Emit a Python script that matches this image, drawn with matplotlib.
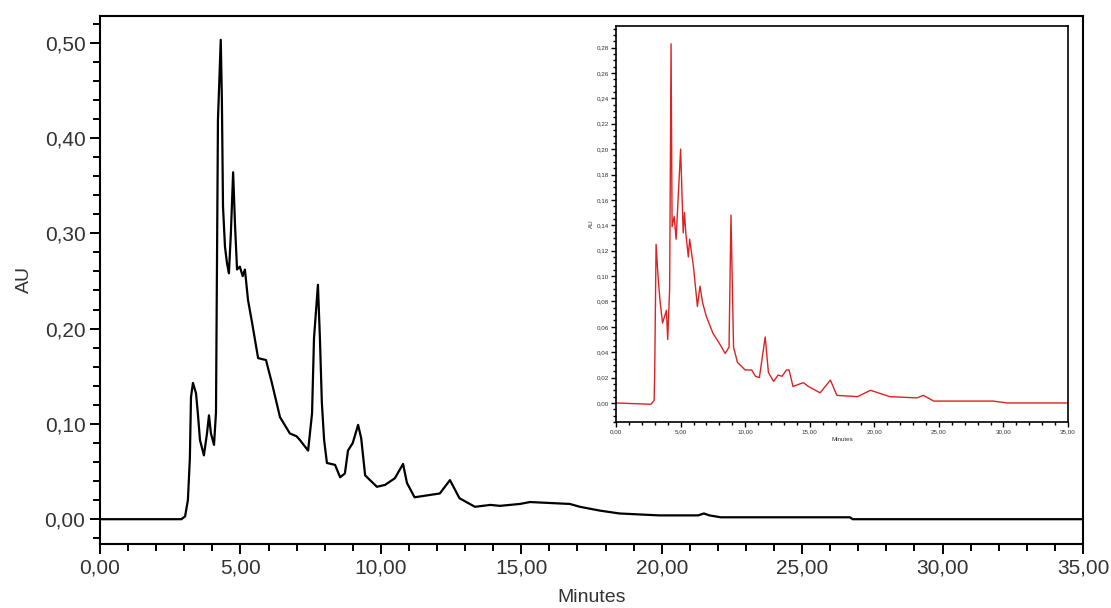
import numpy as np
import matplotlib.pyplot as plt
from matplotlib.ticker import MultipleLocator, FuncFormatter

# main chromatogram (black), minutes vs AU
main_t = [0.0, 2.9, 3.03, 3.13, 3.2, 3.24, 3.31, 3.42, 3.49, 3.56, 3.7, 3.81, 3.88,
          3.95, 4.06, 4.13, 4.2, 4.3, 4.34, 4.38, 4.45, 4.52, 4.59, 4.66, 4.74, 4.81,
          4.88, 4.98, 5.08, 5.16, 5.27, 5.41, 5.63, 5.91, 6.12, 6.41, 6.76, 7.0, 7.12,
          7.41, 7.55, 7.62, 7.76, 7.83, 7.9, 7.98, 8.08, 8.37, 8.55, 8.72, 8.83, 9.0,
          9.19, 9.3, 9.44, 9.86, 10.15, 10.5, 10.79, 10.93, 11.2, 12.1, 12.46, 12.8,
          13.35, 13.9, 14.24, 14.95, 15.31, 16.73, 17.09, 17.8, 18.5, 19.9, 21.3, 21.5,
          21.7, 22.1, 26.7, 26.8, 35.0]
main_au = [0.0, 0.0, 0.003, 0.02, 0.064, 0.128, 0.143, 0.132, 0.109, 0.083, 0.067, 0.09,
           0.109, 0.09, 0.078, 0.112, 0.419, 0.503, 0.44, 0.328, 0.286, 0.269, 0.258, 0.3,
           0.364, 0.307, 0.262, 0.265, 0.255, 0.262, 0.23, 0.207, 0.169, 0.167, 0.143,
           0.107, 0.09, 0.087, 0.083, 0.072, 0.111, 0.19, 0.246, 0.19, 0.122, 0.083,
           0.059, 0.057, 0.044, 0.048, 0.072, 0.08, 0.099, 0.085, 0.046, 0.034, 0.036,
           0.043, 0.058, 0.038, 0.023, 0.027, 0.041, 0.022, 0.013, 0.015, 0.014, 0.016,
           0.018, 0.016, 0.013, 0.009, 0.006, 0.004, 0.004, 0.006, 0.004, 0.002, 0.002,
           0.0, 0.0]

# inset chromatogram (red)
ins_t = [0.0, 2.7, 2.95, 3.0, 3.1, 3.25, 3.4, 3.6, 3.9, 4.0, 4.15, 4.26, 4.34, 4.5,
         4.65, 5.0, 5.2, 5.3, 5.4, 5.6, 5.7, 6.0, 6.3, 6.5, 6.7, 7.0, 7.5, 8.0, 8.45,
         8.75, 8.9, 9.1, 9.4, 10.0, 10.5, 10.8, 11.1, 11.55, 11.8, 12.2, 12.55, 12.85,
         13.2, 13.4, 13.7, 14.5, 14.9, 15.8, 16.6, 17.1, 18.7, 19.7, 21.2, 23.3, 23.8,
         24.6, 29.2, 30.3, 35.0]
ins_au = [0.0, -0.001, 0.002, 0.03, 0.125, 0.1, 0.081, 0.063, 0.073, 0.05, 0.09, 0.283,
          0.139, 0.147, 0.129, 0.2, 0.134, 0.15, 0.134, 0.115, 0.129, 0.107, 0.076,
          0.092, 0.079, 0.068, 0.055, 0.047, 0.039, 0.044, 0.148, 0.044, 0.032, 0.026,
          0.026, 0.021, 0.02, 0.052, 0.024, 0.017, 0.022, 0.021, 0.026, 0.026, 0.013,
          0.016, 0.013, 0.008, 0.018, 0.006, 0.005, 0.01, 0.005, 0.004, 0.006, 0.0015,
          0.0015, 0.0, 0.0]

comma = FuncFormatter(lambda v, p: f"{v:.2f}".replace('.', ','))
txt = '#333333'

plt.rcParams['font.family'] = ['Liberation Sans', 'DejaVu Sans']

fig = plt.figure(figsize=(11.11, 6.08), dpi=100)
ax = fig.add_axes([0.09, 0.1053, 0.8848, 0.8684])
ax.plot(main_t, main_au, color='black', lw=1.6)
ax.set_xlim(0, 35)
ax.set_ylim(-0.026, 0.528)
ax.xaxis.set_major_locator(MultipleLocator(5))
ax.xaxis.set_minor_locator(MultipleLocator(1))
ax.yaxis.set_major_locator(MultipleLocator(0.1))
ax.yaxis.set_minor_locator(MultipleLocator(0.02))
ax.xaxis.set_major_formatter(comma)
ax.yaxis.set_major_formatter(comma)
ax.tick_params(which='major', length=7, width=1.4, labelsize=15, labelcolor=txt, direction='out')
ax.tick_params(which='minor', length=5, width=1.4, direction='out')
for s in ax.spines.values():
    s.set_linewidth(1.5)
ax.set_xlabel('Minutes', fontsize=14, color=txt, labelpad=8)
ax.set_ylabel('AU', fontsize=14, color=txt, labelpad=8)

# inset
ai = fig.add_axes([0.5545, 0.3059, 0.4068, 0.6513])
ai.plot(ins_t, ins_au, color='#dd2222', lw=1.0)
ai.set_xlim(0, 35)
ai.set_ylim(-0.015, 0.297)
ai.xaxis.set_major_locator(MultipleLocator(5))
ai.xaxis.set_minor_locator(MultipleLocator(1))
ai.yaxis.set_major_locator(MultipleLocator(0.02))
ai.yaxis.set_minor_locator(MultipleLocator(0.005))
ai.xaxis.set_major_formatter(comma)
ai.yaxis.set_major_formatter(comma)
ai.tick_params(which='major', length=3.5, width=1.0, labelsize=4.5, labelcolor=txt, pad=1.5)
ai.tick_params(which='minor', length=2, width=1.0)
for s in ai.spines.values():
    s.set_linewidth(1.2)
ai.set_xlabel('Minutes', fontsize=4.5, color=txt, labelpad=2)
ai.set_ylabel('AU', fontsize=4.5, color=txt, labelpad=2)

fig.savefig('out.png', dpi=100)
